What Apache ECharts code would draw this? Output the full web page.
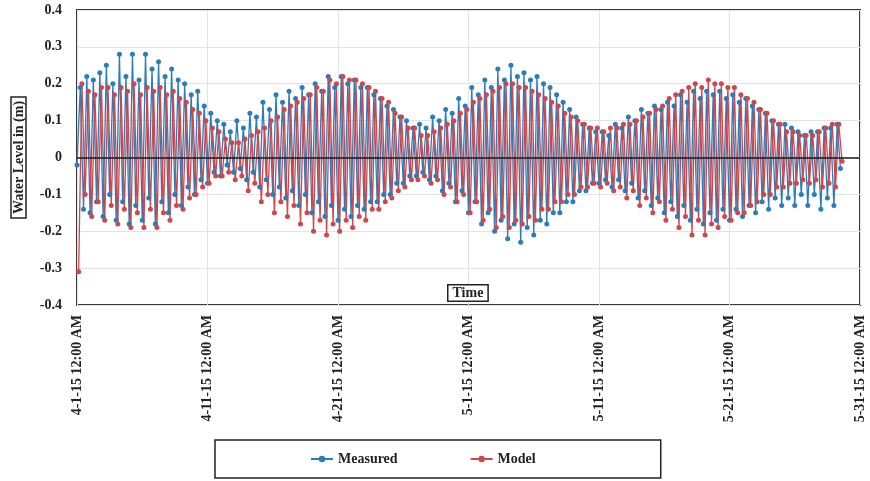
<!DOCTYPE html>
<html>
<head>
<meta charset="utf-8">
<script src="https://cdn.jsdelivr.net/npm/echarts@6/dist/echarts.min.js"></script>
<style>html,body{margin:0;padding:0;background:#fff}#c{width:870px;height:481px}</style>
</head>
<body>
<div id="c"></div>
<script>
// Time step between samples, in days from 4-1-15 12:00 AM
var stepDays = 0.25;
var measuredStartDay = 0;
var modelStartDay = 0.125;
var tickLabels = ["4-1-15 12:00 AM","4-11-15 12:00 AM","4-21-15 12:00 AM","5-1-15 12:00 AM","5-11-15 12:00 AM","5-21-15 12:00 AM","5-31-15 12:00 AM"];

var measured = [
-0.02,0.19,-0.14,0.22, -0.15,0.21,-0.12,0.23, -0.16,0.25,-0.10,0.20, -0.17,0.28,-0.12,0.22,
-0.18,0.28,-0.13,0.21, -0.17,0.28,-0.11,0.24, -0.18,0.26,-0.12,0.22, -0.15,0.24,-0.10,0.21,
-0.13,0.20,-0.08,0.17, -0.10,0.18,-0.06,0.14, -0.07,0.12,-0.04,0.10, -0.05,0.09,-0.02,0.07,
-0.04,0.10,-0.03,0.08, -0.06,0.12,-0.04,0.11, -0.08,0.15,-0.06,0.13, -0.10,0.17,-0.08,0.15,
-0.11,0.18,-0.09,0.16, -0.13,0.19,-0.10,0.17, -0.15,0.20,-0.12,0.18, -0.16,0.22,-0.13,0.19,
-0.17,0.22,-0.14,0.20, -0.16,0.21,-0.13,0.19, -0.14,0.19,-0.12,0.17, -0.12,0.16,-0.10,0.14,
-0.10,0.13,-0.07,0.11, -0.07,0.10,-0.05,0.08, -0.05,0.09,-0.04,0.08, -0.06,0.11,-0.05,0.10,
-0.09,0.13,-0.07,0.12, -0.12,0.16,-0.09,0.14, -0.15,0.19,-0.12,0.17, -0.18,0.21,-0.15,0.19,
-0.20,0.24,-0.17,0.21, -0.22,0.25,-0.18,0.22, -0.23,0.23,-0.19,0.21, -0.21,0.22,-0.17,0.20,
-0.18,0.19,-0.15,0.17, -0.15,0.15,-0.12,0.13, -0.12,0.11,-0.09,0.09, -0.09,0.08,-0.07,0.07,
-0.07,0.07,-0.06,0.06, -0.08,0.09,-0.06,0.08, -0.09,0.11,-0.07,0.10, -0.11,0.13,-0.09,0.12,
-0.13,0.14,-0.11,0.13, -0.15,0.15,-0.12,0.14, -0.16,0.17,-0.13,0.15, -0.17,0.18,-0.14,0.16,
-0.18,0.18,-0.15,0.17, -0.17,0.18,-0.14,0.16, -0.17,0.17,-0.14,0.15, -0.16,0.16,-0.13,0.14,
-0.15,0.13,-0.12,0.12, -0.14,0.10,-0.11,0.09, -0.13,0.09,-0.11,0.08, -0.13,0.07,-0.10,0.06,
-0.13,0.07,-0.10,0.07, -0.14,0.08,-0.11,0.08, -0.13,0.09,-0.03
];

var model = [
-0.31,0.20,-0.10,0.18, -0.16,0.17,-0.12,0.19, -0.17,0.19,-0.13,0.17, -0.18,0.19,-0.14,0.18,
-0.19,0.20,-0.15,0.17, -0.19,0.19,-0.14,0.18, -0.19,0.19,-0.15,0.17, -0.17,0.18,-0.13,0.16,
-0.14,0.15,-0.11,0.13, -0.10,0.12,-0.08,0.10, -0.07,0.08,-0.05,0.07, -0.05,0.05,-0.04,0.04,
-0.06,0.04,-0.05,0.05, -0.09,0.06,-0.07,0.07, -0.12,0.08,-0.10,0.10, -0.15,0.11,-0.12,0.13,
-0.16,0.14,-0.13,0.15, -0.18,0.16,-0.15,0.17, -0.20,0.19,-0.17,0.18, -0.21,0.21,-0.18,0.20,
-0.20,0.22,-0.17,0.21, -0.19,0.21,-0.16,0.20, -0.17,0.19,-0.14,0.18, -0.14,0.16,-0.12,0.15,
-0.11,0.12,-0.09,0.11, -0.08,0.08,-0.06,0.08, -0.06,0.06,-0.05,0.06, -0.07,0.07,-0.06,0.08,
-0.10,0.09,-0.08,0.10, -0.12,0.12,-0.10,0.13, -0.15,0.15,-0.12,0.16, -0.17,0.17,-0.14,0.18,
-0.19,0.19,-0.16,0.20, -0.19,0.20,-0.17,0.19, -0.18,0.19,-0.16,0.18, -0.17,0.17,-0.14,0.16,
-0.14,0.15,-0.12,0.14, -0.12,0.12,-0.10,0.11, -0.10,0.10,-0.08,0.09, -0.08,0.08,-0.07,0.08,
-0.08,0.07,-0.07,0.08, -0.09,0.08,-0.08,0.09, -0.11,0.09,-0.09,0.10, -0.13,0.11,-0.11,0.12,
-0.15,0.13,-0.12,0.14, -0.17,0.16,-0.14,0.17, -0.19,0.18,-0.16,0.19, -0.21,0.20,-0.17,0.19,
-0.21,0.21,-0.18,0.20, -0.19,0.20,-0.16,0.19, -0.17,0.19,-0.15,0.17, -0.15,0.16,-0.13,0.15,
-0.12,0.13,-0.10,0.12, -0.10,0.10,-0.08,0.09, -0.08,0.07,-0.07,0.07, -0.07,0.06,-0.06,0.06,
-0.07,0.06,-0.06,0.07, -0.08,0.08,-0.07,0.09, -0.08,0.09,-0.01
];

function toPairs(arr, start){ return arr.map(function(v,i){ return [start + i*stepDays, v]; }); }

var serif = '"Liberation Serif","Times New Roman",serif';
var chart = echarts.init(document.getElementById('c'), null, {renderer:'canvas'});
chart.setOption({
  animation:false,
  backgroundColor:'#fff',
  grid:{left:77, right:10, top:10, bottom:176, show:true, borderColor:'#3a3a3a', borderWidth:2, containLabel:false},
  xAxis:{
    type:'value', min:0, max:60, interval:10,
    axisLine:{show:false}, axisTick:{show:false},
    splitLine:{show:true, lineStyle:{color:'#e3e3e3', width:1}},
    axisLabel:{rotate:90, margin:10, fontFamily:serif, fontWeight:'bold', fontSize:14, color:'#222',
      formatter:function(v){ return tickLabels[Math.round(v/10)]; }}
  },
  yAxis:{
    type:'value', min:-0.4, max:0.4, interval:0.1,
    name:'Water Level in (m)', nameLocation:'middle', nameGap:51, nameRotate:90,
    nameTextStyle:{fontFamily:serif, fontWeight:'bold', fontSize:14, color:'#222', borderColor:'#222', borderWidth:1.5, padding:[1,4,0,4]},
    axisLine:{show:false}, axisTick:{show:false},
    splitLine:{show:true, lineStyle:{color:'#e3e3e3', width:1}},
    axisLabel:{margin:15, fontFamily:serif, fontWeight:'bold', fontSize:14, color:'#222',
      formatter:function(v){ var r=Math.round(v*10)/10; return r===0?'0':r.toFixed(1); }}
  },
  graphic:[{
    type:'text', left:447, top:284, z:100,
    style:{text:'Time', fontFamily:serif, fontWeight:'bold', fontSize:14, fill:'#222',
      backgroundColor:'#fff', borderColor:'#222', borderWidth:1.5, padding:[1,4,0,4]}
  }],
  legend:{
    left:215, top:440,
    padding:[12,125,12,95], itemGap:72,
    borderColor:'#222', borderWidth:1.5,
    itemWidth:22, itemHeight:8,
    textStyle:{fontFamily:serif, fontWeight:'bold', fontSize:14, color:'#222'},
    data:['Measured','Model']
  },
  series:[
    {name:'Measured', type:'line', data:toPairs(measured, measuredStartDay), color:'#2a7db8',
     symbol:'circle', symbolSize:5, showSymbol:true,
     lineStyle:{width:1.3, color:'#2a7db8'}, itemStyle:{color:'#2a7db8'}},
    {name:'Model', type:'line', data:toPairs(model, modelStartDay), color:'#d0464b',
     symbol:'circle', symbolSize:5, showSymbol:true,
     lineStyle:{width:1.3, color:'#d0464b'}, itemStyle:{color:'#d0464b'},
     markLine:{silent:true, symbol:'none', label:{show:false}, lineStyle:{color:'#1a1a1a', width:1.6, type:'solid'}, data:[{yAxis:0}]}}
  ]
});
</script>
</body>
</html>
